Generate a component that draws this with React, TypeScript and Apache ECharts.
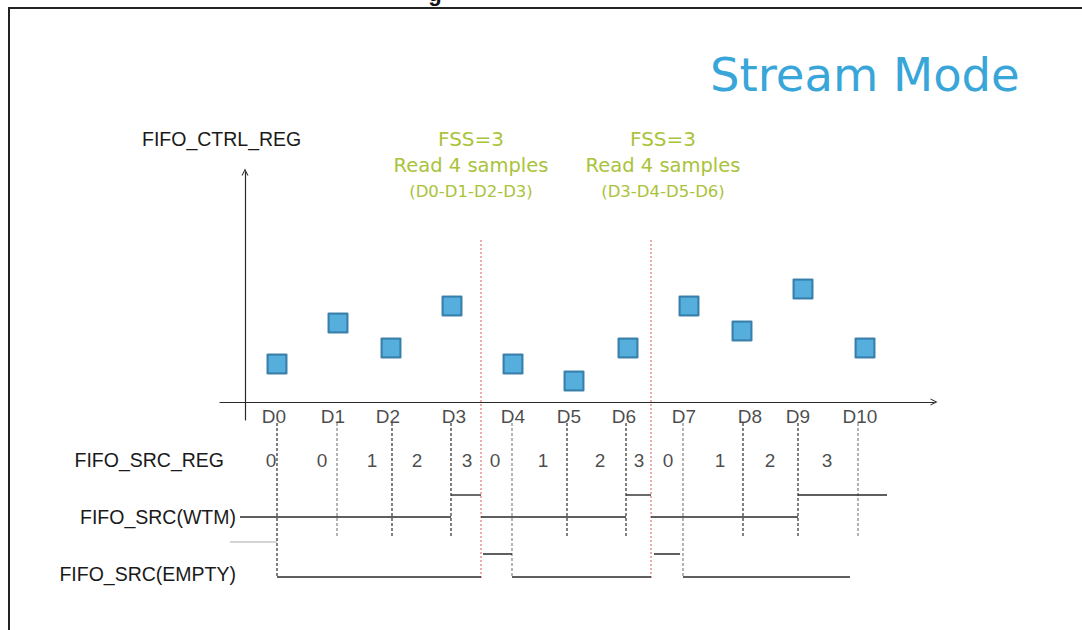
import React, { useEffect, useRef } from 'react';
import * as echarts from 'echarts';

// ---- data (time axis: 0 = vertical axis) ----
const samples = ['D0', 'D1', 'D2', 'D3', 'D4', 'D5', 'D6', 'D7', 'D8', 'D9', 'D10'];
const sampleTime = [32, 93, 146, 207, 268, 329, 383, 444, 497, 558, 620];
const sampleValue = [38, 79, 54, 96, 38, 21, 54, 96, 71, 113, 54];
const tickTime = [32, 92, 147, 206, 267, 322, 381, 438, 498, 553, 613];
const labelTime = [29, 88, 143, 209, 268, 324, 379, 439, 505, 553, 615];
const srcRegTime = [26, 77, 127, 172, 222, 250, 298, 355, 394, 423, 475, 525, 582];
const srcRegValue = [0, 0, 1, 2, 3, 0, 1, 2, 3, 0, 1, 2, 3];
const readTime = [236, 406];
// [start, end, level 0=low 1=high]
const wtmSegments = [
  [-5, 206, 0], [206, 236, 1], [236, 381, 0], [381, 406, 1], [406, 553, 0], [553, 642, 1],
];
const emptySegments = [
  [32, 236, 0], [238, 267, 1], [267, 406, 0], [409, 435, 1], [438, 605, 0],
];
const emptyInitial = [-15, 32];
const longTicks = ['D0', 'D4', 'D7'];
const faintTicks = ['D1', 'D4', 'D7', 'D10'];
const fssLabels = ['FSS=3', 'FSS=3'];
const readLabels = ['Read 4 samples', 'Read 4 samples'];
const readGroups = ['(D0-D1-D2-D3)', '(D3-D4-D5-D6)'];

// ---- layout (timing grid levels) ----
const WTM_LOW = 61;
const WTM_HIGH = 83;
const EMPTY_LOW = 1;
const EMPTY_HIGH = 24;
const EMPTY_INIT = 36;
const TICK_TOP = 155;
const TICK_BOTTOM = 40;
const LABEL_ROW = 162;
const REG_ROW = 118;

const SANS = '"Liberation Sans", Arial, sans-serif';
const WIDE = '"DejaVu Sans", sans-serif';
const CHEVRON = 'path://M0,10L5,0L10,10L8.4,10L5,3.2L1.6,10Z';
const INK = '#2a2a2a';

export default function App() {
  const ref = useRef<HTMLDivElement>(null);
  useEffect(() => {
    if (!ref.current) return;
    const chart = echarts.init(ref.current, undefined, { renderer: 'svg' });
    const series: any[] = [];

    series.push({
      type: 'scatter', name: 'FIFO samples', xAxisIndex: 0, yAxisIndex: 0,
      data: sampleTime.map((t, i) => [t, sampleValue[i]]),
      symbol: 'rect', symbolSize: 19, z: 5,
      itemStyle: { color: '#2b9ad3', borderColor: '#1d6897', borderWidth: 2, borderJoin: 'round' },
    });

    const seg = (x0: number, x1: number, y0: number, y1: number, lineStyle: any) => ({
      type: 'line', xAxisIndex: 1, yAxisIndex: 1, data: [[x0, y0], [x1, y1]],
      symbol: 'none', showSymbol: false, silent: true, lineStyle,
    });

    tickTime.forEach((t, i) => {
      const long = longTicks.includes(samples[i]);
      const faint = faintTicks.includes(samples[i]);
      series.push(seg(t, t, TICK_TOP, long ? EMPTY_LOW : TICK_BOTTOM,
        { color: faint ? '#777' : '#1a1a1a', width: 1.1, type: [3, 2] }));
    });
    readTime.forEach((t) => {
      series.push(seg(t, t, 0, 340, { color: '#dd5c5c', width: 1, type: [2, 2] }));
    });
    wtmSegments.forEach(([a, b, l]) => {
      const y = l ? WTM_HIGH : WTM_LOW;
      series.push(seg(a, b, y, y, { color: INK, width: 1.4 }));
    });
    emptySegments.forEach(([a, b, l]) => {
      const y = l ? EMPTY_HIGH : EMPTY_LOW;
      series.push(seg(a, b, y, y, { color: INK, width: 1.4 }));
    });
    series.push(seg(emptyInitial[0], emptyInitial[1], EMPTY_INIT, EMPTY_INIT, { color: '#aaa', width: 1.2 }));

    series.push({
      type: 'scatter', xAxisIndex: 1, yAxisIndex: 1, symbolSize: 1, silent: true,
      itemStyle: { color: 'rgba(0,0,0,0)' },
      data: labelTime.map((t, i) => ({ value: [t, LABEL_ROW], name: samples[i] })),
      label: { show: true, position: 'inside', formatter: '{b}', color: '#1a1a1a', fontSize: 19, fontFamily: SANS },
    });
    series.push({
      type: 'scatter', xAxisIndex: 1, yAxisIndex: 1, symbolSize: 1, silent: true,
      itemStyle: { color: 'rgba(0,0,0,0)' },
      data: srcRegTime.map((t, i) => ({ value: [t, REG_ROW], name: String(srcRegValue[i]) })),
      label: { show: true, position: 'inside', formatter: '{b}', color: '#1a1a1a', fontSize: 19, fontFamily: SANS },
    });

    const axisLine = {
      show: true, onZero: true, symbol: ['none', CHEVRON], symbolSize: [10, 7],
      lineStyle: { color: INK, width: 1.2 },
    };

    const txt = (text: string, x: number, y: number, size: number, fill: string, align: string, family = SANS) => ({
      type: 'text', x, y, silent: true,
      style: { text, fontSize: size, fontFamily: family, fill, align, verticalAlign: 'middle' },
    });

    const green = '#a9c33a';
    const groupX = [471, 663];
    const graphic: any[] = [
      { type: 'line', shape: { x1: 8, y1: 8, x2: 1082, y2: 8 }, style: { stroke: '#222', lineWidth: 2 } },
      { type: 'line', shape: { x1: 9, y1: 7, x2: 9, y2: 630 }, style: { stroke: '#222', lineWidth: 2 } },
      { type: 'text', x: 435, y: 4, silent: true, style: { text: 'g', fontSize: 22, fontWeight: 'bold', fontFamily: SANS, fill: '#111', align: 'center', verticalAlign: 'bottom' } },
      txt('Stream Mode', 710, 75, 46.5, '#38a6d9', 'left', WIDE),
      txt('FIFO_CTRL_REG', 142, 139, 19.5, '#1a1a1a', 'left'),
      txt('FIFO_SRC_REG', 224, 460, 19.5, '#1a1a1a', 'right'),
      txt('FIFO_SRC(WTM)', 236, 517, 19.5, '#1a1a1a', 'right'),
      txt('FIFO_SRC(EMPTY)', 236, 573.5, 19.5, '#1a1a1a', 'right'),
    ];
    groupX.forEach((x, i) => {
      graphic.push(txt(fssLabels[i], x, 139, 20, green, 'center', WIDE));
      graphic.push(txt(readLabels[i], x, 165, 19.5, green, 'center', WIDE));
      graphic.push(txt(readGroups[i], x, 191, 16.5, green, 'center', WIDE));
    });

    chart.setOption({
      animation: false,
      backgroundColor: '#fff',
      grid: [
        { left: 220, top: 172, width: 714, height: 248, outerBoundsMode: 'none', containLabel: false },
        { left: 220, top: 238, width: 714, height: 340, outerBoundsMode: 'none', containLabel: false },
      ],
      xAxis: [
        { gridIndex: 0, type: 'value', min: -25, max: 689, axisLine, axisTick: { show: false }, axisLabel: { show: false }, splitLine: { show: false } },
        { gridIndex: 1, type: 'value', min: -25, max: 689, show: false },
      ],
      yAxis: [
        { gridIndex: 0, type: 'value', min: -18, max: 230, axisLine, axisTick: { show: false }, axisLabel: { show: false }, splitLine: { show: false } },
        { gridIndex: 1, type: 'value', min: 0, max: 340, show: false },
      ],
      graphic,
      series,
    });
    return () => chart.dispose();
  }, []);
  return <div ref={ref} style={{ position: 'fixed', left: 0, top: 0, width: 1082, height: 630, background: '#fff' }} />;
}
